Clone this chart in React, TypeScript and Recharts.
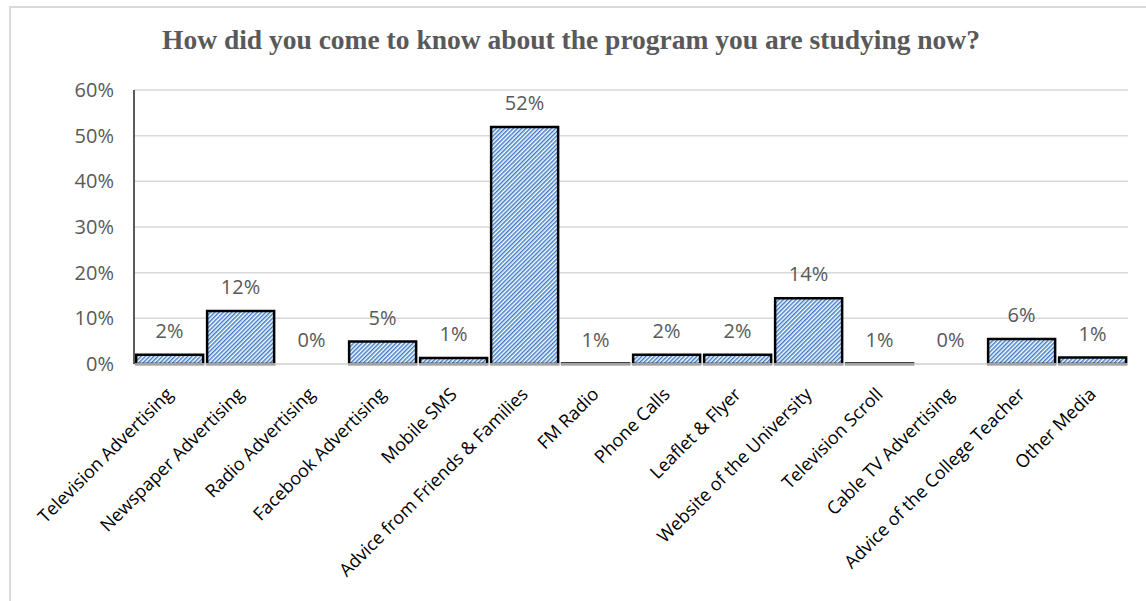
import React from "react";
import { ComposedChart, Bar, Scatter, XAxis, YAxis, CartesianGrid } from "recharts";

const categories = [
  "Television Advertising",
  "Newspaper Advertising",
  "Radio Advertising",
  "Facebook Advertising",
  "Mobile SMS",
  "Advice from Friends & Families",
  "FM Radio",
  "Phone Calls",
  "Leaflet & Flyer",
  "Website of the University",
  "Television Scroll",
  "Cable TV Advertising",
  "Advice of the College Teacher",
  "Other Media",
];

// bar heights in percent
const shares = [2, 11.6, 0, 4.9, 1.3, 51.9, 0.1, 2, 2, 14.4, 0.1, 0, 5.5, 1.4];

// data labels exactly as printed above the bars
const shareLabels = ["2%", "12%", "0%", "5%", "1%", "52%", "1%", "2%", "2%", "14%", "1%", "0%", "6%", "1%"];

const yTicks = [0, 10, 20, 30, 40, 50, 60];

const data = categories.map((name, i) => ({ name, value: shares[i], label: shareLabels[i] }));

const labelFont = "'Open Sans', 'Liberation Sans', sans-serif";

const CategoryTick = (props: any) => {
  const { x, y, payload } = props;
  const ax = x;
  const ay = y + 19;
  return (
    <text
      x={ax}
      y={ay}
      transform={`rotate(-45 ${ax} ${ay})`}
      textAnchor="end"
      dy="0.35em"
      fontSize={18}
      fontFamily={labelFont}
      fill="#000"
    >
      {payload.value}
    </text>
  );
};

// value label drawn just above each bar top
const ValueLabel = (props: any) => {
  const { cx, cy, payload } = props;
  if (cx == null || cy == null) return null;
  return (
    <text x={cx} y={cy - 17} textAnchor="middle" fontSize={20} fontFamily={labelFont} fill="#595959">
      {payload.label}
    </text>
  );
};

export default function App() {
  return (
    <div style={{ position: "absolute", left: 0, top: 0, width: 1146, height: 601, overflow: "hidden", background: "#fff" }}>
      <div
        style={{
          position: "absolute",
          left: 9,
          top: 6,
          width: 1160,
          height: 620,
          border: "2px solid #d9d9d9",
          boxSizing: "border-box",
        }}
      />
      <div
        style={{
          position: "absolute",
          left: 0,
          top: 24,
          width: 1142,
          textAlign: "center",
          fontFamily: "'Liberation Serif', 'Times New Roman', serif",
          fontWeight: "bold",
          fontSize: 27.5,
          lineHeight: "32px",
          color: "#595959",
        }}
      >
        How did you come to know about the program you are studying now?
      </div>
      <div style={{ position: "absolute", left: 0, top: 0 }}>
        <ComposedChart
          width={1146}
          height={601}
          data={data}
          margin={{ top: 90, right: 18, left: 0, bottom: 0 }}
          barCategoryGap="3%"
        >
          <defs>
            <pattern id="hatch" width="3" height="3" patternUnits="userSpaceOnUse" patternTransform="rotate(45)">
              <rect width="3" height="3" fill="#ffffff" />
              <rect width="1.5" height="3" fill="#3e7cc9" />
            </pattern>
          </defs>
          <CartesianGrid vertical={false} stroke="#d9d9d9" strokeWidth={1.5} />
          <XAxis
            dataKey="name"
            interval={0}
            tickLine={false}
            axisLine={{ stroke: "#d9d9d9", strokeWidth: 1.5 }}
            tick={<CategoryTick />}
            height={237}
          />
          <YAxis
            domain={[0, 60]}
            ticks={yTicks}
            tickFormatter={(v) => `${v}%`}
            tickLine={false}
            axisLine={{ stroke: "#262626", strokeWidth: 1.5 }}
            tick={{ fill: "#595959", fontSize: 20, fontFamily: labelFont }}
            tickMargin={14}
            width={134}
          />
          <Bar dataKey="value" fill="url(#hatch)" stroke="#000" strokeWidth={2.5} isAnimationActive={false} />
          <Scatter dataKey="value" shape={<ValueLabel />} isAnimationActive={false} />
        </ComposedChart>
      </div>
    </div>
  );
}
